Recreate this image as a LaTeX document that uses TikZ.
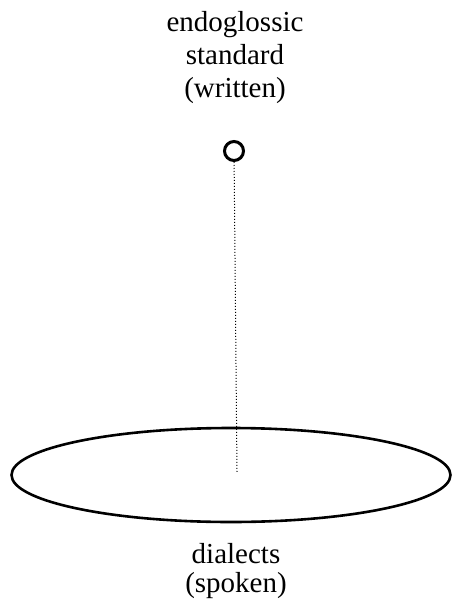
\documentclass[tikz,border=0pt]{standalone}
\usepackage{fontspec}
\setmainfont{Liberation Serif}
\usetikzlibrary{shapes.geometric}
\tikzset{
  label text/.style={align=center, font=\fontsize{29}{33}\selectfont, inner sep=0pt},
  standard dot/.style={circle, draw, line width=3pt, minimum size=19pt, inner sep=0pt},
  dialect ring/.style={ellipse, draw, line width=2.6pt, minimum width=439pt, minimum height=94pt, inner sep=0pt},
  tie/.style={line width=1pt, dash pattern=on 1pt off 2pt}
}
\begin{document}
\begin{tikzpicture}[x=1pt,y=-1pt]
        \useasboundingbox (0,0) rectangle (453,609);
        \node[label text, anchor=base] (stdtext) at (235,98) {endoglossic\\standard\\(written)};
        \node[standard dot] (std) at (234,151) {};
        \node[dialect ring] (dial) at (231,475) {};
        \coordinate (dialc) at (237,472);
        \node[label text, font=\fontsize{29}{29}\selectfont, anchor=base] (dialtext) at (236,592) {dialects\\(spoken)};
        \draw [tie] (std) -- (dialc);
    \end{tikzpicture}
\end{document}
